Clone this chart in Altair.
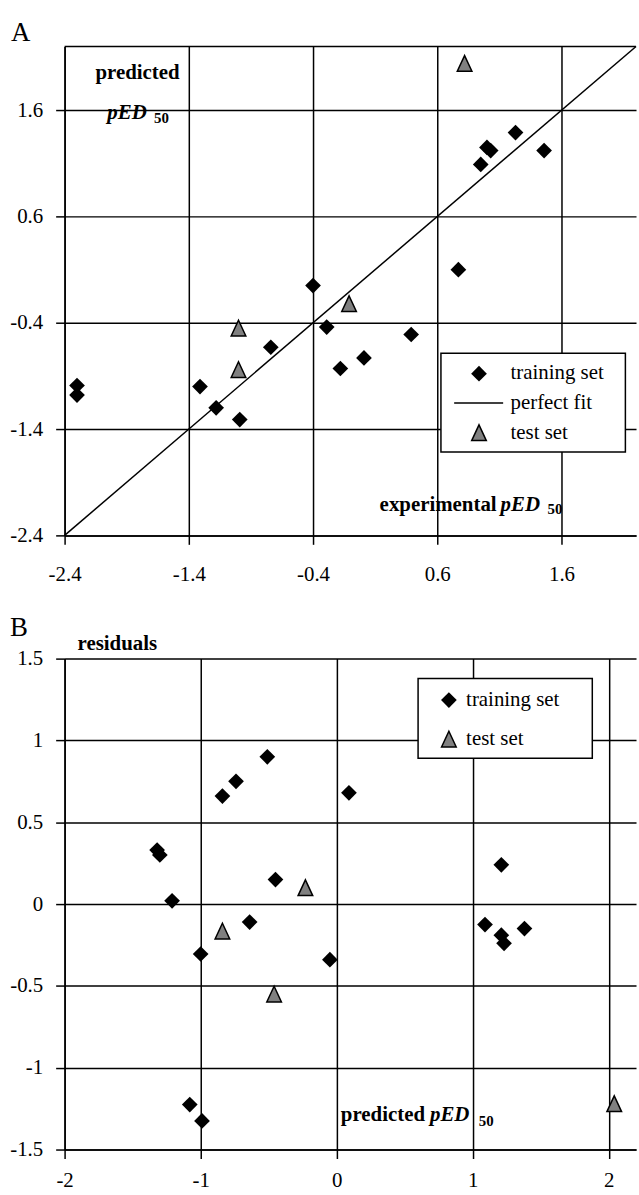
import altair as alt
import pandas as pd

# ---------------- data ----------------
# Panel A: predicted vs experimental pED50
a_train_x = [-2.30, -2.30, -1.31, -1.18, -0.99, -0.74, -0.40, -0.29, -0.18, 0.01, 0.39, 0.77, 0.95, 1.00, 1.03, 1.23, 1.46]
a_train_y = [-0.99, -1.08, -1.00, -1.20, -1.31, -0.63, -0.05, -0.44, -0.83, -0.73, -0.51, 0.10, 1.09, 1.25, 1.22, 1.39, 1.22]
a_test_x = [0.82, -0.11, -1.00, -1.00]
a_test_y = [2.04, -0.22, -0.45, -0.84]
a_fit = [-2.4, 2.2]
a_ticks = [-2.4, -1.4, -0.4, 0.6, 1.6]

# Panel B: residuals vs predicted pED50
b_train_x = [-1.32, -1.30, -0.84, -0.74, -0.51, -0.45, -1.21, -1.00, -0.64, -1.08, -0.99, 0.09, 1.21, -0.05, 1.09, 1.21, 1.23, 1.38]
b_train_y = [0.33, 0.30, 0.66, 0.75, 0.90, 0.15, 0.02, -0.305, -0.11, -1.225, -1.325, 0.68, 0.24, -0.34, -0.125, -0.19, -0.24, -0.15]
b_test_x = [-0.23, -0.84, -0.46, 2.04]
b_test_y = [0.10, -0.165, -0.55, -1.22]
b_xticks = [-2, -1, 0, 1, 2]
b_yticks = [-1.5, -1, -0.5, 0, 0.5, 1, 1.5]

legend_a = ["training set", "perfect fit", "test set"]
legend_b = ["training set", "test set"]

FONT = "Liberation Serif"
GRAY = "#808080"
TRI = "M0,-1L0.93,1L-0.93,1Z"
W = 575
MS = 250

one = pd.DataFrame({"k": [0]})


def label(text, x, y, size=21, weight="normal", style="normal", align="left"):
    return alt.Chart(one).mark_text(
        text=text, align=align, baseline="middle", font=FONT, fontSize=size,
        fontWeight=weight, fontStyle=style, color="black"
    ).encode(x=alt.value(x), y=alt.value(y))


def sym(shape, x, y, fill, stroke=None):
    kw = dict(shape=shape, size=MS, filled=True, fill=fill, opacity=1, fillOpacity=1)
    if stroke:
        kw.update(stroke=stroke, strokeWidth=1.5, strokeOpacity=1)
    else:
        kw.update(strokeWidth=0)
    return alt.Chart(one).mark_point(**kw).encode(x=alt.value(x), y=alt.value(y))


def box(x1, x2, y1, y2):
    return alt.Chart(one).mark_rect(fill="white", stroke="black", strokeWidth=1.5).encode(
        x=alt.value(x1), x2=alt.value(x2), y=alt.value(y1), y2=alt.value(y2))


MINUS = "\u2212"


def axis(values, pad, fmt):
    return alt.Axis(values=values, labelPadding=pad, title=None, grid=True,
                    gridColor="black", gridWidth=1.5, gridOpacity=1,
                    domainColor="black", domainWidth=1.5, tickColor="black",
                    tickWidth=1.5, tickSize=9, labelFont=FONT, labelFontSize=21,
                    labelColor="black", labelFlush=False, labelOverlap=False,
                    labelExpr=f"replace(format(datum.value, '{fmt}'), '{MINUS}', '-')")


# ---------------- Panel A ----------------
xA = alt.X("x:Q", scale=alt.Scale(domain=[-2.4, 2.2], nice=False, zero=False),
           axis=axis(a_ticks, 19, ".1f"))
yA = alt.Y("y:Q", scale=alt.Scale(domain=[-2.4, 2.2], nice=False, zero=False),
           axis=axis(a_ticks, 13, ".1f"))

fitA = alt.Chart(pd.DataFrame({"x": a_fit, "y": a_fit})).mark_line(
    color="black", strokeWidth=1.5).encode(x=xA, y=yA)
trainA = alt.Chart(pd.DataFrame({"x": a_train_x, "y": a_train_y})).mark_point(
    shape="diamond", size=MS, filled=True, fill="black", strokeWidth=0, opacity=1).encode(x=xA, y=yA)
testA = alt.Chart(pd.DataFrame({"x": a_test_x, "y": a_test_y})).mark_point(
    shape=TRI, size=MS, filled=True, fill=GRAY, stroke="black", strokeWidth=1.5, opacity=1).encode(x=xA, y=yA)
topA = alt.Chart(one).mark_rule(color="black", strokeWidth=1.5).encode(
    x=alt.value(0), x2=alt.value(W), y=alt.value(0))

panelA = alt.layer(
    topA, fitA, trainA, testA,
    box(378.7, 564.3, 308.7, 408),
    sym("diamond", 417, 329.3, "black"),
    alt.Chart(one).mark_rule(color="black", strokeWidth=1.5).encode(
        x=alt.value(392), x2=alt.value(441.3), y=alt.value(358.7)),
    sym(TRI, 417, 388.7, GRAY, "black"),
    label(legend_a[0], 448.7, 329),
    label(legend_a[1], 448.7, 358.7),
    label(legend_a[2], 448.7, 388.7),
    label("A", -54, -13, size=27),
    label("predicted", 31, 27, weight="bold"),
    label("pED", 43, 67, weight="bold", style="italic"),
    label("50", 90, 72, size=15, weight="bold"),
    label("experimental", 317, 461, weight="bold"),
    label("pED", 438.7, 461, weight="bold", style="italic"),
    label("50", 486, 465, size=15, weight="bold"),
).properties(width=W, height=492)

# ---------------- Panel B ----------------
xB = alt.X("x:Q", scale=alt.Scale(domain=[-2, 2.2], nice=False, zero=False),
           axis=axis(b_xticks, 11, "~g"))
yB = alt.Y("y:Q", scale=alt.Scale(domain=[-1.5, 1.5], nice=False, zero=False),
           axis=axis(b_yticks, 13, "~g"))

trainB = alt.Chart(pd.DataFrame({"x": b_train_x, "y": b_train_y})).mark_point(
    shape="diamond", size=MS, filled=True, fill="black", strokeWidth=0, opacity=1).encode(x=xB, y=yB)
testB = alt.Chart(pd.DataFrame({"x": b_test_x, "y": b_test_y})).mark_point(
    shape=TRI, size=MS, filled=True, fill=GRAY, stroke="black", strokeWidth=1.5, opacity=1).encode(x=xB, y=yB)

panelB = alt.layer(
    trainB, testB,
    box(355.7, 531, 20, 100.3),
    sym("diamond", 386.7, 41.7, "black"),
    sym(TRI, 386.7, 81, GRAY, "black"),
    label(legend_b[0], 404, 41.7),
    label(legend_b[1], 404, 81),
    label("B", -55, -31, size=27),
    label("residuals", 13, -15, weight="bold"),
    label("predicted", 278, 459.3, weight="bold"),
    label("pED", 367.7, 459.3, weight="bold", style="italic"),
    label("50", 416.7, 465.3, size=15, weight="bold"),
).properties(width=W, height=494)

chart = alt.vconcat(panelA, panelB, spacing=124, bounds="flush").properties(
    padding={"left": 9, "top": 16, "right": 0, "bottom": 0},
    background="white",
).configure_view(stroke=None, strokeWidth=0)

chart.save("out.html", embed_options={"renderer": "svg", "actions": False})
